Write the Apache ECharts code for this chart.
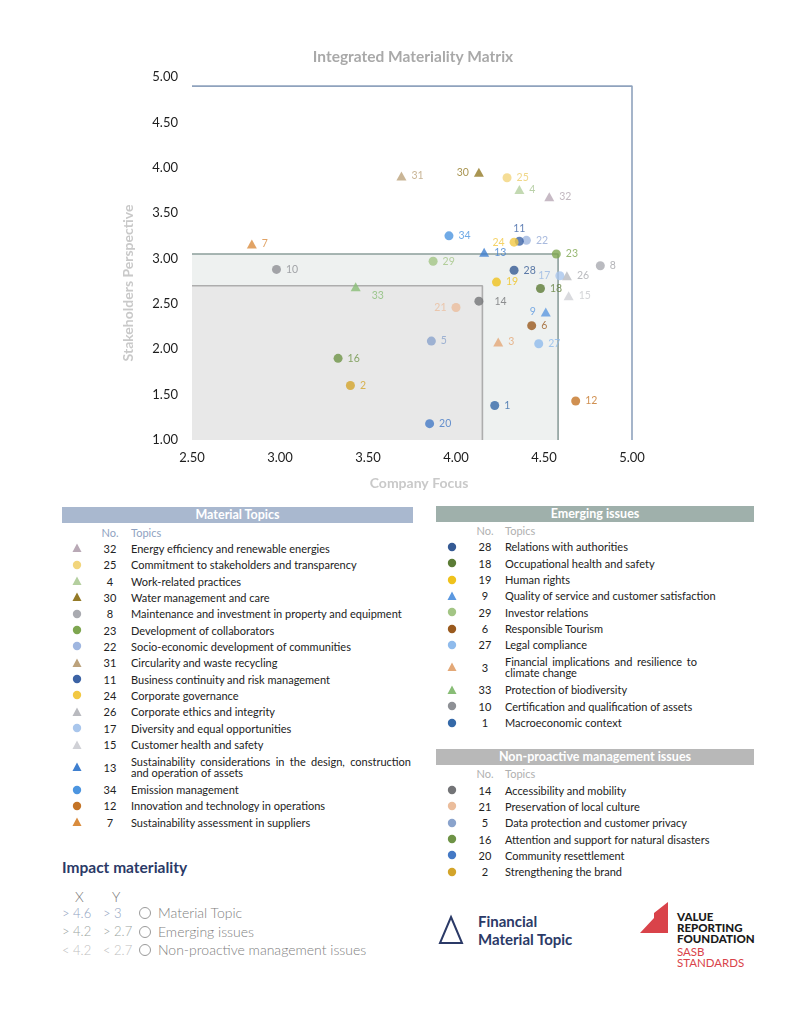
<!DOCTYPE html>
<html>
<head>
<meta charset="utf-8">
<script src="https://cdn.jsdelivr.net/npm/echarts@6/dist/echarts.min.js"></script>
<style>
  html,body{margin:0;padding:0;}
  body{width:808px;height:1015px;background:#fff;font-family:Lato,"Open Sans",sans-serif;position:relative;overflow:hidden;color:#2a2a2a;}
  #chart{position:absolute;left:0;top:0;width:808px;height:500px;}
  .abs{position:absolute;white-space:nowrap;}
  .hdr{position:absolute;color:#fff;font-weight:700;font-size:12.5px;text-align:center;line-height:16px;height:16px;}
  .num{position:absolute;width:30px;text-align:center;font-size:11px;line-height:13px;color:#222;}
  .txt{position:absolute;font-size:11px;line-height:13px;color:#222;white-space:nowrap;}
  .just{white-space:normal;text-align:justify;text-align-last:justify;line-height:11px;}
  .sub{position:absolute;font-size:11px;line-height:13px;}
</style>
</head>
<body>
<div id="chart"></div>
<div id="tables"></div>
<script>
// ---------------- DATA ----------------
const materialIds = [32, 25, 4, 30, 8, 23, 22, 31, 11, 24, 26, 17, 15, 13, 34, 12, 7];
const materialTopics = [
  "Energy efficiency and renewable energies",
  "Commitment to stakeholders and transparency",
  "Work-related practices",
  "Water management and care",
  "Maintenance and investment in property and equipment",
  "Development of collaborators",
  "Socio-economic development of communities",
  "Circularity and waste recycling",
  "Business continuity and risk management",
  "Corporate governance",
  "Corporate ethics and integrity",
  "Diversity and equal opportunities",
  "Customer health and safety",
  "Sustainability considerations in the design, construction|and operation of assets",
  "Emission management",
  "Innovation and technology in operations",
  "Sustainability assessment in suppliers"
];
const materialX = [4.53, 4.29, 4.36, 4.13, 4.82, 4.57, 4.40, 3.69, 4.36, 4.33, 4.63, 4.59, 4.64, 4.16, 3.96, 4.68, 2.84];
const materialY = [3.68, 3.89, 3.76, 3.95, 2.92, 3.05, 3.20, 3.91, 3.19, 3.18, 2.81, 2.81, 2.59, 3.07, 3.25, 1.43, 3.16];
const materialFinancial = [true, false, true, true, false, false, false, true, false, false, true, false, true, true, false, false, true];

const emergingIds = [28, 18, 19, 9, 29, 6, 27, 3, 33, 10, 1];
const emergingTopics = [
  "Relations with authorities",
  "Occupational health and safety",
  "Human rights",
  "Quality of service and customer satisfaction",
  "Investor relations",
  "Responsible Tourism",
  "Legal compliance",
  "Financial implications and resilience to|climate change",
  "Protection of biodiversity",
  "Certification and qualification of assets",
  "Macroeconomic context"
];
const emergingX = [4.33, 4.48, 4.23, 4.51, 3.87, 4.43, 4.47, 4.24, 3.43, 2.98, 4.22];
const emergingY = [2.87, 2.67, 2.74, 2.41, 2.97, 2.26, 2.06, 2.08, 2.69, 2.88, 1.38];
const emergingFinancial = [false, false, false, true, false, false, false, true, true, false, false];

const nonProactiveIds = [14, 21, 5, 16, 20, 2];
const nonProactiveTopics = [
  "Accessibility and mobility",
  "Preservation of local culture",
  "Data protection and customer privacy",
  "Attention and support for natural disasters",
  "Community resettlement",
  "Strengthening the brand"
];
const nonProactiveX = [4.13, 4.00, 3.86, 3.33, 3.85, 3.40];
const nonProactiveY = [2.53, 2.46, 2.09, 1.90, 1.18, 1.60];
const nonProactiveFinancial = [false, false, false, false, false, false];

// zone thresholds (company focus x, stakeholders y)
const zoneInner = [4.15, 2.70];
const zoneMiddle = [4.58, 3.05];
const zoneOuter = [5.00, 4.90];

const xTicks = [2.5, 3.0, 3.5, 4.0, 4.5, 5.0];
const yTicks = [1.0, 1.5, 2.0, 2.5, 3.0, 3.5, 4.0, 4.5, 5.0];

// ---------------- STYLE ----------------
const colorById = {
  32:'#b9a9b6', 25:'#f2d57c', 4:'#b4cf9f', 30:'#947a27', 8:'#a9aab0', 23:'#7ea650',
  22:'#9fb6e0', 31:'#bca27c', 11:'#3c63a5', 24:'#f2c842', 26:'#b9babf', 17:'#a9c6ec',
  15:'#d0d1d6', 13:'#3f7fcf', 34:'#4c95e0', 12:'#c47426', 7:'#d98c3e',
  28:'#355a94', 18:'#5c7c36', 19:'#efc21c', 9:'#5b98e0', 29:'#a3c585', 6:'#9a5a1e',
  27:'#8fbbec', 3:'#e3a877', 33:'#88bd76', 10:'#8e9095', 1:'#3569a8',
  14:'#737477', 21:'#ebbd9c', 5:'#8aa3cc', 16:'#6e9346', 20:'#4479c5', 2:'#d3a42a'
};
const labelColorById = { 32:'#b3a6b0', 26:'#a9aaaf', 15:'#c9cace', 8:'#a0a1a6', 22:'#93a9d6', 17:'#98b8e4', 25:'#eccd6a', 4:'#a9c693' };
const labelPlace = {
  30:{position:'left'}, 24:{position:'left'}, 21:{position:'left'}, 17:{position:'left'}, 9:{position:'left'},
  11:{position:'top', distance:3}, 33:{position:'right', offset:[6,9]}, 14:{position:'right', distance:11}
};

function buildSeriesData(ids, xs, ys, fin) {
  return ids.map((id, i) => {
    const lp = labelPlace[id] || {};
    return {
      value: [xs[i], ys[i], id],
      symbol: fin[i] ? 'triangle' : 'circle',
      symbolSize: fin[i] ? [10, 9] : 9,
      itemStyle: { color: colorById[id] },
      label: Object.assign({ show: true, position: 'right', distance: 5, color: labelColorById[id] || colorById[id] }, lp)
    };
  });
}

const chart = echarts.init(document.getElementById('chart'), null, { renderer: 'canvas' });
const lineStyleSeries = (pts, color, z) => ({
  type: 'line', data: pts, symbol: 'none', silent: true, z: z, animation: false,
  lineStyle: { color: color, width: 1.6 }
});
const scatterBase = {
  type: 'scatter', z: 5, animation: false,
  label: { show: true, fontSize: 10.5, fontFamily: 'Lato', formatter: p => p.value[2] }
};

chart.setOption({
  animation: false,
  grid: { left: 192, top: 77, width: 440, height: 363, containLabel: false },
  xAxis: {
    type: 'value', min: xTicks[0], max: xTicks[xTicks.length - 1], interval: 0.5,
    axisLine: { show: false }, axisTick: { show: false }, splitLine: { show: false },
    axisLabel: { color: '#1e1e1e', fontSize: 13, fontFamily: 'Lato', margin: 11, formatter: v => v.toFixed(2) }
  },
  yAxis: {
    type: 'value', min: yTicks[0], max: yTicks[yTicks.length - 1], interval: 0.5,
    axisLine: { show: false }, axisTick: { show: false }, splitLine: { show: false },
    axisLabel: { color: '#1e1e1e', fontSize: 13, fontFamily: 'Lato', margin: 14, formatter: v => v.toFixed(2) }
  },
  graphic: [
    { type: 'text', x: 413, y: 57, style: { text: 'Integrated Materiality Matrix', fill: '#a9a9a9', font: 'bold 15.5px Lato', textAlign: 'center', textVerticalAlign: 'middle' } },
    { type: 'text', x: 419, y: 483, style: { text: 'Company Focus', fill: '#c9c9c9', font: 'bold 14px Lato', textAlign: 'center', textVerticalAlign: 'middle' } },
    { type: 'text', x: 128, y: 283, rotation: Math.PI / 2, style: { text: 'Stakeholders Perspective', fill: '#c9c9c9', font: 'bold 14px Lato', textAlign: 'center', textVerticalAlign: 'middle' } }
  ],
  series: [
    {
      type: 'line', data: [], silent: true, z: 0,
      markArea: {
        silent: true,
        data: [
          [{ coord: [xTicks[0], yTicks[0]], itemStyle: { color: '#eef1f0' } }, { coord: [zoneMiddle[0], zoneMiddle[1]] }],
          [{ coord: [xTicks[0], yTicks[0]], itemStyle: { color: '#e8e8e8' } }, { coord: [zoneInner[0], zoneInner[1]] }]
        ]
      }
    },
    lineStyleSeries([[xTicks[0], zoneMiddle[1]], [zoneMiddle[0], zoneMiddle[1]], [zoneMiddle[0], yTicks[0]]], '#8c9f9b', 2),
    lineStyleSeries([[xTicks[0], zoneInner[1]], [zoneInner[0], zoneInner[1]], [zoneInner[0], yTicks[0]]], '#adadad', 2),
    lineStyleSeries([[xTicks[0], zoneOuter[1]], [zoneOuter[0], zoneOuter[1]], [zoneOuter[0], yTicks[0]]], '#8fa2bd', 2),
    Object.assign({}, scatterBase, { name: 'Non-proactive', data: buildSeriesData(nonProactiveIds, nonProactiveX, nonProactiveY, nonProactiveFinancial) }),
    Object.assign({}, scatterBase, { name: 'Emerging', data: buildSeriesData(emergingIds, emergingX, emergingY, emergingFinancial) }),
    Object.assign({}, scatterBase, { name: 'Material', data: buildSeriesData(materialIds, materialX, materialY, materialFinancial) })
  ]
});

// ---------------- TABLES (HTML) ----------------
const root = document.getElementById('tables');
function el(tag, cls, style, html) {
  const e = document.createElement(tag);
  if (cls) e.className = cls;
  Object.assign(e.style, style || {});
  if (html !== undefined) e.innerHTML = html;
  root.appendChild(e);
  return e;
}
function marker(cx, cy, color, tri) {
  const s = tri
    ? `<svg width="12" height="12" style="position:absolute;left:${cx-6}px;top:${cy-6}px"><polygon points="6,1.5 10.5,10 1.5,10" fill="${color}"/></svg>`
    : `<svg width="12" height="12" style="position:absolute;left:${cx-6}px;top:${cy-6}px"><circle cx="6" cy="6" r="4.2" fill="${color}"/></svg>`;
  const d = document.createElement('div');
  d.innerHTML = s;
  root.appendChild(d.firstChild);
}
function buildTable(cfg) {
  el('div', 'hdr', { left: cfg.left + 'px', top: cfg.headerTop + 'px', width: cfg.width + 'px', background: cfg.headerBg }, cfg.title);
  el('div', 'sub', { left: (cfg.numX - 15) + 'px', width: '30px', textAlign: 'center', top: (cfg.noCenter - 6.5) + 'px', color: cfg.subColor }, 'No.');
  el('div', 'sub', { left: cfg.textX + 'px', top: (cfg.noCenter - 6.5) + 'px', color: cfg.subColor }, 'Topics');
  let c = cfg.firstCenter;
  const isDouble = t => t.indexOf('|') >= 0;
  cfg.ids.forEach((id, i) => {
    if (i > 0) {
      c += (isDouble(cfg.topics[i - 1]) || isDouble(cfg.topics[i])) ? 22.5 : 16.35;
    }
    marker(cfg.markerX, c, colorById[id], cfg.fin[i]);
    el('div', 'num', { left: (cfg.numX - 15) + 'px', top: (c - 6.5) + 'px' }, String(id));
    const t = cfg.topics[i];
    if (isDouble(t)) {
      const parts = t.split('|');
      el('div', 'txt just', { left: cfg.textX + 'px', top: (c - 11.5) + 'px', width: cfg.textWidth + 'px' }, parts[0]);
      el('div', 'txt', { left: cfg.textX + 'px', top: (c - 0.5) + 'px', lineHeight: '11px' }, parts[1]);
    } else {
      el('div', 'txt', { left: cfg.textX + 'px', top: (c - 6.5) + 'px' }, t);
    }
  });
}
buildTable({ title: 'Material Topics', left: 62, width: 351, headerTop: 507, headerBg: '#a9b8cf', subColor: '#8fa2c1',
  noCenter: 532, firstCenter: 548.3, markerX: 77, numX: 110, textX: 131, textWidth: 280,
  ids: materialIds, topics: materialTopics, fin: materialFinancial });
buildTable({ title: 'Emerging issues', left: 436, width: 318, headerTop: 506, headerBg: '#9fb0ab', subColor: '#b0b0b0',
  noCenter: 530.5, firstCenter: 546.8, markerX: 452, numX: 485, textX: 505, textWidth: 192,
  ids: emergingIds, topics: emergingTopics, fin: emergingFinancial });
buildTable({ title: 'Non-proactive management issues', left: 436, width: 318, headerTop: 749, headerBg: '#b8b8b8', subColor: '#b0b0b0',
  noCenter: 773.3, firstCenter: 790, markerX: 452, numX: 485, textX: 505, textWidth: 192,
  ids: nonProactiveIds, topics: nonProactiveTopics, fin: nonProactiveFinancial });

// ---------------- IMPACT MATERIALITY ----------------
el('div', 'abs', { left: '62px', top: '857px', fontSize: '15.5px', fontWeight: '700', color: '#2b3a67', lineHeight: '20px' }, 'Impact materiality');
el('div', 'abs', { left: '75px', top: '888px', fontSize: '14px', fontWeight: '300', color: '#777', lineHeight: '17px' }, 'X');
el('div', 'abs', { left: '112px', top: '888px', fontSize: '14px', fontWeight: '300', color: '#777', lineHeight: '17px' }, 'Y');
const impactRows = [
  ['> 4.6', '> 3', 'Material Topic', '#8fa2c1', 913.3],
  ['> 4.2', '> 2.7', 'Emerging issues', '#9aa5a2', 931.7],
  ['< 4.2', '< 2.7', 'Non-proactive management issues', '#c0c0c0', 950]
];
impactRows.forEach(r => {
  el('div', 'abs', { left: '62px', top: (r[4] - 8.5) + 'px', fontSize: '13px', fontWeight: '300', color: r[3], lineHeight: '17px' }, r[0].replace('<', '&lt;').replace('>', '&gt;'));
  el('div', 'abs', { left: '103px', top: (r[4] - 8.5) + 'px', fontSize: '13px', fontWeight: '300', color: r[3], lineHeight: '17px' }, r[1].replace('<', '&lt;').replace('>', '&gt;'));
  el('div', 'abs', { left: '139px', top: (r[4] - 6) + 'px', width: '10px', height: '10px', border: '1.2px solid #9a9a9a', borderRadius: '50%' });
  el('div', 'abs', { left: '158px', top: (r[4] - 9) + 'px', fontSize: '14px', fontWeight: '300', color: '#808080', lineHeight: '17px' }, r[2]);
});

// Financial material topic
(function(){
  const d = document.createElement('div');
  d.innerHTML = '<svg width="30" height="32" style="position:absolute;left:437px;top:914px"><polygon points="14,3 25,29 3,29" fill="none" stroke="#2b3a67" stroke-width="2"/></svg>';
  root.appendChild(d.firstChild);
})();
el('div', 'abs', { left: '478px', top: '912px', fontSize: '15px', fontWeight: '700', color: '#2b3a67', lineHeight: '18px' }, 'Financial<br>Material Topic');

// Value Reporting Foundation logo
(function(){
  const d = document.createElement('div');
  d.innerHTML = '<svg width="32" height="36" style="position:absolute;left:639px;top:900px"><polygon points="1,33 15,18 15,13 29,2 29,33" fill="#d9434a"/></svg>';
  root.appendChild(d.firstChild);
})();
el('div', 'abs', { left: '677px', top: '912px', fontSize: '11.5px', fontWeight: '900', color: '#1a1a1a', lineHeight: '10.8px' }, 'VALUE<br>REPORTING<br>FOUNDATION');
el('div', 'abs', { left: '677px', top: '947px', fontSize: '11.5px', fontWeight: '400', color: '#d9434a', lineHeight: '10.8px' }, 'SASB<br>STANDARDS');
</script>
</body>
</html>
